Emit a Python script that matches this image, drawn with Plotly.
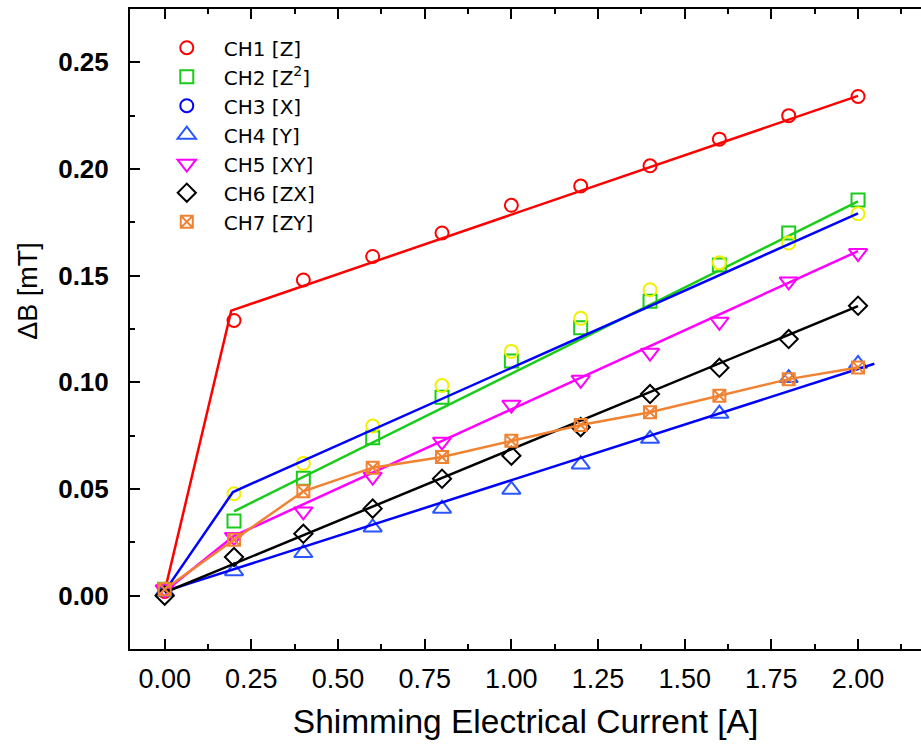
import plotly.graph_objects as go

# ---- data ----
current = [0.0, 0.2, 0.4, 0.6, 0.8, 1.0, 1.2, 1.4, 1.6, 1.8, 2.0]

ch1 = [0.002, 0.129, 0.148, 0.159, 0.170, 0.183, 0.192, 0.2015, 0.214, 0.225, 0.234]
ch2 = [0.003, 0.035, 0.055, 0.074, 0.093, 0.110, 0.1256, 0.138, 0.155, 0.170, 0.1855]
ch3 = [0.003, 0.0478, 0.062, 0.0795, 0.0985, 0.1145, 0.130, 0.1434, 0.156, 0.1653, 0.179]
ch4 = [0.002, 0.0115, 0.020, 0.032, 0.0408, 0.0497, 0.0615, 0.0735, 0.0853, 0.102, 0.1087]
ch5 = [0.003, 0.0275, 0.0395, 0.0558, 0.0722, 0.0895, 0.1012, 0.1139, 0.1284, 0.1473, 0.1606]
ch6 = [0.0, 0.0181, 0.029, 0.0408, 0.0548, 0.0656, 0.079, 0.0945, 0.1068, 0.1203, 0.1359]
ch7 = [0.003, 0.0262, 0.0489, 0.060, 0.065, 0.0726, 0.080, 0.086, 0.0937, 0.1015, 0.107]

# fitted lines
fit1_x = [0.0, 0.192, 2.0]
fit1_y = [0.002, 0.1336, 0.2343]
fit2_x = [0.2, 2.0]
fit2_y = [0.0395, 0.1848]
fit3_x = [0.0, 0.197, 2.0]
fit3_y = [0.002, 0.0486, 0.1792]
fit4_x = [0.0, 2.047]
fit4_y = [0.002, 0.1087]
fit5_x = [0.0, 0.2, 2.0]
fit5_y = [0.002, 0.028, 0.1615]
fit6_x = [0.0, 2.0]
fit6_y = [0.0015, 0.1357]

names = ["CH1 [Z]", "CH2 [Z<sup>2</sup>]", "CH3 [X]", "CH4 [Y]", "CH5 [XY]", "CH6 [ZX]", "CH7 [ZY]"]

FONT = "Liberation Sans, Arial, sans-serif"
LEGEND_FONT = "DejaVu Sans, Liberation Sans, Arial, sans-serif"
LW = 2.5
MLW = 2

fig = go.Figure()

def markers(y, name, symbol, color, size, show=True, group=None):
    fig.add_trace(go.Scatter(
        x=current, y=y, mode="markers", name=name, showlegend=show,
        legendgroup=group or name,
        marker=dict(symbol=symbol, size=size, color=color, line=dict(color=color, width=MLW)),
    ))

def line(xs, ys, color, group):
    fig.add_trace(go.Scatter(x=xs, y=ys, mode="lines", showlegend=False, legendgroup=group,
                             line=dict(color=color, width=LW), hoverinfo="skip"))

# CH1
markers(ch1, names[0], "circle-open", "#ff0000", 13, group="g1")
line(fit1_x, fit1_y, "#ff0000", "g1")
# CH2
markers(ch2, names[1], "square-open", "#19cc19", 13, group="g2")
line(fit2_x, fit2_y, "#19cc19", "g2")
# CH3 (legend symbol blue, plotted markers yellow)
fig.add_trace(go.Scatter(x=[None], y=[None], mode="markers", name=names[2], legendgroup="g3",
                         marker=dict(symbol="circle-open", size=13, color="#0000ff",
                                     line=dict(color="#0000ff", width=MLW))))
markers(ch3, names[2], "circle-open", "#f0f000", 13, show=False, group="g3")
line(fit3_x, fit3_y, "#0000ff", "g3")
# CH4
markers(ch4, names[3], "triangle-up-open", "#2b55ff", 16, group="g4")
line(fit4_x, fit4_y, "#0000ff", "g4")
# CH5
markers(ch5, names[4], "triangle-down-open", "#ff00ff", 16, group="g5")
line(fit5_x, fit5_y, "#ff00ff", "g5")
# CH6
markers(ch6, names[5], "diamond-open", "#000000", 14, group="g6")
line(fit6_x, fit6_y, "#000000", "g6")
# CH7
line(current, ch7, "#f08232", "g7")
markers(ch7, names[6], "square-x-open", "#f08232", 12, group="g7")

axis_common = dict(
    showline=True, linecolor="black", linewidth=2,
    ticks="inside", tickcolor="black", tickwidth=2, ticklen=10,
    showgrid=False, zeroline=False,
)

fig.update_layout(
    width=921, height=744,
    margin=dict(l=130, r=0, t=9, b=95),
    paper_bgcolor="white", plot_bgcolor="white",
    font=dict(family=FONT, color="black"),
    showlegend=True,
    legend=dict(x=0.025, y=0.97, xanchor="left", yanchor="top",
                bgcolor="rgba(0,0,0,0)", font=dict(size=20, family=LEGEND_FONT),
                itemwidth=64, tracegroupgap=0, traceorder="normal"),
    xaxis=dict(
        **axis_common, mirror="ticks",
        range=[-0.1, 2.1816], tick0=0, dtick=0.25, tickformat=".2f",
        minor=dict(ticks="inside", ticklen=5, tickwidth=2, tickcolor="black", dtick=0.125, tick0=0),
        tickfont=dict(size=27, family=FONT), ticklabelstandoff=5,
        title=dict(text="Shimming Electrical Current [A]", font=dict(size=33.5, family=FONT), standoff=16),
    ),
    yaxis=dict(
        **axis_common, mirror=False,
        range=[-0.025, 0.275], tick0=0, dtick=0.05, tickformat=".2f",
        minor=dict(ticks="inside", ticklen=5, tickwidth=2, tickcolor="black", dtick=0.025, tick0=0),
        tickfont=dict(size=26, family=FONT, weight="bold"), ticklabelstandoff=14,
    ),
    annotations=[dict(
        text="ΔB [mT]", xref="paper", yref="paper", x=-0.130, y=0.56,
        xanchor="center", yanchor="middle", textangle=-90, showarrow=False,
        font=dict(size=27, family=FONT),
    )],
)

fig.write_html("out.html")
